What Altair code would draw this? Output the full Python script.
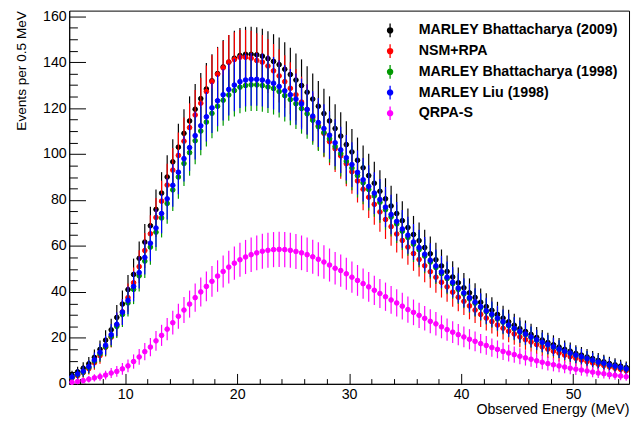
import altair as alt
import pandas as pd

# ---- data (bin centres of 0.5 MeV bins, 5..55 MeV) ----
energy = [5.25 + 0.5 * i for i in range(100)]

marley_2009 = [
    3.8, 5.2, 6.8, 8.7, 11.5, 15.0, 19.0, 23.5, 28.9, 34.7,
    41.0, 47.6, 54.6, 61.7, 68.8, 75.9, 83.0, 90.0, 96.6, 103.0,
    109.0, 114.4, 119.5, 124.1, 128.3, 131.9, 135.0, 137.9, 140.0, 141.7,
    142.9, 143.4, 143.4, 143.2, 142.6, 141.5, 140.3, 138.9, 136.9, 134.6,
    132.2, 129.8, 126.9, 123.9, 120.8, 117.6, 114.4, 111.1, 107.8, 104.1,
    100.9, 97.3, 94.0, 90.6, 87.3, 83.8, 80.5, 77.4, 74.1, 71.0,
    68.0, 65.0, 62.3, 59.3, 56.6, 54.0, 51.3, 48.9, 46.5, 44.0,
    41.8, 39.6, 37.6, 35.5, 33.6, 32.0, 30.2, 28.6, 27.0, 25.5,
    24.0, 22.8, 21.5, 20.2, 19.1, 18.0, 17.0, 16.0, 15.0, 14.2,
    13.2, 12.5, 11.7, 11.0, 10.2, 9.6, 8.8, 8.3, 7.7, 7.1,
]
nsm_rpa = [
    2.6, 3.6, 4.9, 6.6, 9.2, 12.3, 15.9, 20.3, 25.6, 31.3,
    37.5, 44.0, 51.0, 58.0, 65.3, 72.4, 79.5, 86.5, 93.0, 99.4,
    105.6, 111.5, 117.0, 122.1, 127.2, 131.5, 134.7, 137.5, 140.0, 141.1,
    142.1, 142.1, 141.7, 140.7, 140.0, 138.3, 136.2, 134.0, 131.5, 128.6,
    125.8, 122.6, 119.4, 115.8, 112.3, 109.0, 105.4, 102.3, 99.2, 95.8,
    92.3, 88.3, 84.7, 81.2, 78.1, 74.8, 71.5, 68.4, 65.2, 62.4,
    59.5, 56.7, 54.1, 51.4, 48.8, 46.4, 44.2, 42.2, 39.9, 37.7,
    35.9, 33.9, 32.1, 30.2, 28.6, 27.1, 25.6, 24.2, 22.9, 21.7,
    20.4, 19.2, 18.2, 17.1, 16.1, 15.1, 14.2, 13.4, 12.5, 11.8,
    11.1, 10.4, 9.7, 9.1, 8.5, 8.0, 7.4, 6.8, 6.3, 5.7,
]
marley_1998 = [
    2.8, 4.0, 5.1, 7.1, 9.9, 13.1, 16.1, 20.6, 25.0, 30.2,
    35.2, 41.1, 47.0, 53.4, 59.5, 66.0, 72.2, 78.5, 84.4, 90.0,
    95.9, 100.6, 105.8, 110.0, 113.9, 117.7, 120.8, 123.4, 125.7, 127.6,
    129.1, 129.8, 130.1, 130.1, 129.8, 129.2, 128.5, 127.2, 125.4, 123.7,
    121.9, 119.8, 117.5, 114.7, 111.9, 109.4, 106.6, 103.3, 100.2, 96.9,
    93.9, 90.6, 87.5, 84.6, 81.8, 79.0, 75.8, 72.6, 69.6, 66.4,
    63.7, 60.8, 58.4, 55.6, 53.0, 50.6, 48.0, 45.8, 43.6, 41.1,
    39.1, 37.0, 35.1, 33.2, 31.4, 29.9, 28.2, 26.8, 25.3, 23.9,
    22.5, 21.4, 20.2, 19.0, 17.9, 16.9, 15.9, 15.0, 14.1, 13.3,
    12.4, 11.7, 10.9, 10.2, 9.4, 8.9, 8.1, 7.6, 7.0, 6.4,
]
marley_liu = [
    3.0, 4.3, 5.5, 7.5, 10.4, 13.7, 16.8, 21.4, 25.9, 31.2,
    36.3, 42.4, 48.4, 55.0, 61.2, 67.8, 74.1, 80.5, 86.4, 92.1,
    98.0, 102.8, 108.0, 112.3, 116.2, 120.1, 123.2, 125.8, 128.1, 130.0,
    131.5, 132.2, 132.5, 132.5, 132.2, 131.5, 130.8, 129.4, 127.5, 125.8,
    123.9, 121.8, 119.4, 116.5, 113.7, 111.1, 108.2, 104.9, 101.8, 98.4,
    95.4, 92.0, 88.8, 85.9, 83.0, 80.2, 76.9, 73.7, 70.7, 67.4,
    64.7, 61.7, 59.3, 56.4, 53.8, 51.3, 48.7, 46.4, 44.2, 41.7,
    39.6, 37.5, 35.6, 33.6, 31.8, 30.3, 28.6, 27.1, 25.6, 24.2,
    22.8, 21.7, 20.4, 19.2, 18.1, 17.1, 16.1, 15.1, 14.2, 13.4,
    12.5, 11.8, 11.0, 10.3, 9.5, 9.0, 8.2, 7.7, 7.1, 6.5,
]
qrpa_s = [
    0.7, 1.0, 1.4, 2.0, 2.6, 3.1, 3.8, 4.7, 5.4, 6.5,
    7.8, 9.7, 11.7, 14.0, 16.0, 18.7, 21.1, 23.8, 26.6, 29.4,
    32.1, 34.7, 37.5, 40.0, 42.4, 44.6, 46.9, 48.9, 50.8, 52.5,
    54.0, 55.2, 56.2, 57.0, 57.7, 58.1, 58.4, 58.5, 58.4, 58.1,
    57.6, 57.0, 56.2, 55.3, 54.2, 53.0, 51.7, 50.3, 49.3, 47.9,
    46.4, 45.0, 43.6, 42.2, 40.7, 39.3, 37.9, 36.5, 35.2, 33.8,
    32.3, 31.1, 29.8, 28.5, 27.2, 26.1, 24.8, 23.6, 22.5, 21.4,
    20.4, 19.4, 18.5, 17.5, 16.7, 15.8, 15.0, 14.1, 13.4, 12.7,
    12.0, 11.3, 10.7, 10.0, 9.4, 8.8, 8.3, 7.8, 7.3, 6.8,
    6.4, 6.0, 5.6, 5.1, 4.7, 4.4, 4.0, 3.7, 3.4, 3.1,
]

series_names = [
    "MARLEY Bhattacharya (2009)",
    "NSM+RPA",
    "MARLEY Bhattacharya (1998)",
    "MARLEY Liu (1998)",
    "QRPA-S",
]
series_colors = ["#000000", "#ff0000", "#009900", "#0000ff", "#ff00ff"]
series_values = [marley_2009, nsm_rpa, marley_1998, marley_liu, qrpa_s]

x_major = [10, 20, 30, 40, 50]
x_minor = [6, 8, 12, 14, 16, 18, 22, 24, 26, 28, 32, 34, 36, 38, 42, 44, 46, 48, 52, 54]
y_major = [0, 20, 40, 60, 80, 100, 120, 140, 160]
y_minor = [5, 10, 15, 25, 30, 35, 45, 50, 55, 65, 70, 75, 85, 90, 95,
           105, 110, 115, 125, 130, 135, 145, 150, 155]

rows = []
for name, vals in zip(series_names, series_values):
    for e, v in zip(energy, vals):
        rows.append({"energy": e, "events": v, "series": name})
df = pd.DataFrame(rows)

FONT = "Liberation Sans"
W, H = 567, 378
x_scale = alt.Scale(domain=[5, 55], nice=False, zero=False)
y_scale = alt.Scale(domain=[0, 162.4], nice=False, zero=False)

legend_symbol = "M-0.38,0A0.38,0.38,0,1,1,0.38,0A0.38,0.38,0,1,1,-0.38,0ZM0,-1L0,1"
legend = alt.Legend(
    title=None, orient="none", legendX=317, legendY=12, padding=0,
    symbolType=legend_symbol, symbolSize=190, symbolStrokeWidth=1.3,
    labelFont=FONT, labelFontSize=14.4, labelFontWeight="bold", labelColor="black",
    labelOffset=21, labelLimit=0, rowPadding=1, symbolOpacity=1,
)
pal = alt.Scale(domain=series_names, range=series_colors)

main_x_axis = alt.Axis(
    orient="bottom", values=x_major, format="d", ticks=False, tickSize=0, grid=False,
    domain=True, domainColor="black", domainWidth=1,
    labelFont=FONT, labelFontSize=14.4, labelColor="black", labelPadding=4,
    title="Observed Energy (MeV)", titleFont=FONT, titleFontSize=14.4, titleFontWeight="normal",
    titleColor="black", titleX=W, titleY=30, titleAlign="right", titleBaseline="alphabetic",
)
main_y_axis = alt.Axis(
    orient="left", values=y_major, format="d", ticks=False, tickSize=0, grid=False,
    domain=True, domainColor="black", domainWidth=1,
    labelFont=FONT, labelFontSize=14.4, labelColor="black", labelPadding=3,
    title="Events per 0.5 MeV", titleFont=FONT, titleFontSize=13.8, titleFontWeight="normal",
    titleColor="black", titleAngle=270, titleX=-48, titleY=0,
    titleAlign="right", titleBaseline="middle",
)

base = alt.Chart(df)
layers = []
for i, (name, col) in enumerate(zip(series_names, series_colors)):
    sub = base.transform_filter(alt.datum.series == name).transform_calculate(
        lo="datum.events - sqrt(datum.events)",
        hi="datum.events + sqrt(datum.events)",
    )
    xa = main_x_axis if i == 0 else None
    ya = main_y_axis if i == 0 else None
    rule = sub.mark_rule(color=col, strokeWidth=1.2).encode(
        x=alt.X("energy:Q", scale=x_scale, axis=xa),
        y=alt.Y("lo:Q", scale=y_scale, axis=ya),
        y2="hi:Q",
    )
    pts = sub.mark_point(filled=True, size=22, opacity=1, strokeWidth=1).encode(
        x=alt.X("energy:Q", scale=x_scale, axis=None),
        y=alt.Y("events:Q", scale=y_scale, axis=None),
        fill=alt.Fill("series:N", scale=pal, legend=legend),
        stroke=alt.Stroke("series:N", scale=pal, legend=legend),
    )
    layers += [rule, pts]

# inward ticks (ROOT style), major and minor
def tick_layer(xv, xlen, yv, ylen):
    return base.mark_point(opacity=0).encode(
        x=alt.X("energy:Q", scale=x_scale, axis=alt.Axis(
            orient="bottom", values=xv, labels=False, domain=False, grid=False, title=None,
            ticks=True, tickSize=xlen, offset=-xlen, tickColor="black", tickWidth=1)),
        y=alt.Y("events:Q", scale=y_scale, axis=alt.Axis(
            orient="left", values=yv, labels=False, domain=False, grid=False, title=None,
            ticks=True, tickSize=ylen, offset=-ylen, tickColor="black", tickWidth=1)),
    )

layers.append(tick_layer(x_major, 10.5, y_major, 16.5))
layers.append(tick_layer(x_minor, 5.3, y_minor, 8.3))

chart = alt.layer(*layers).resolve_axis(x="independent", y="independent").properties(
    width=W, height=H,
    padding={"left": 62, "top": 0, "right": 2, "bottom": 37},
    autosize=alt.AutoSizeParams(type="none"),
    background="white",
).configure_view(stroke="black", strokeWidth=1)

chart.save("out.html", embed_options={"renderer": "svg", "actions": False})
